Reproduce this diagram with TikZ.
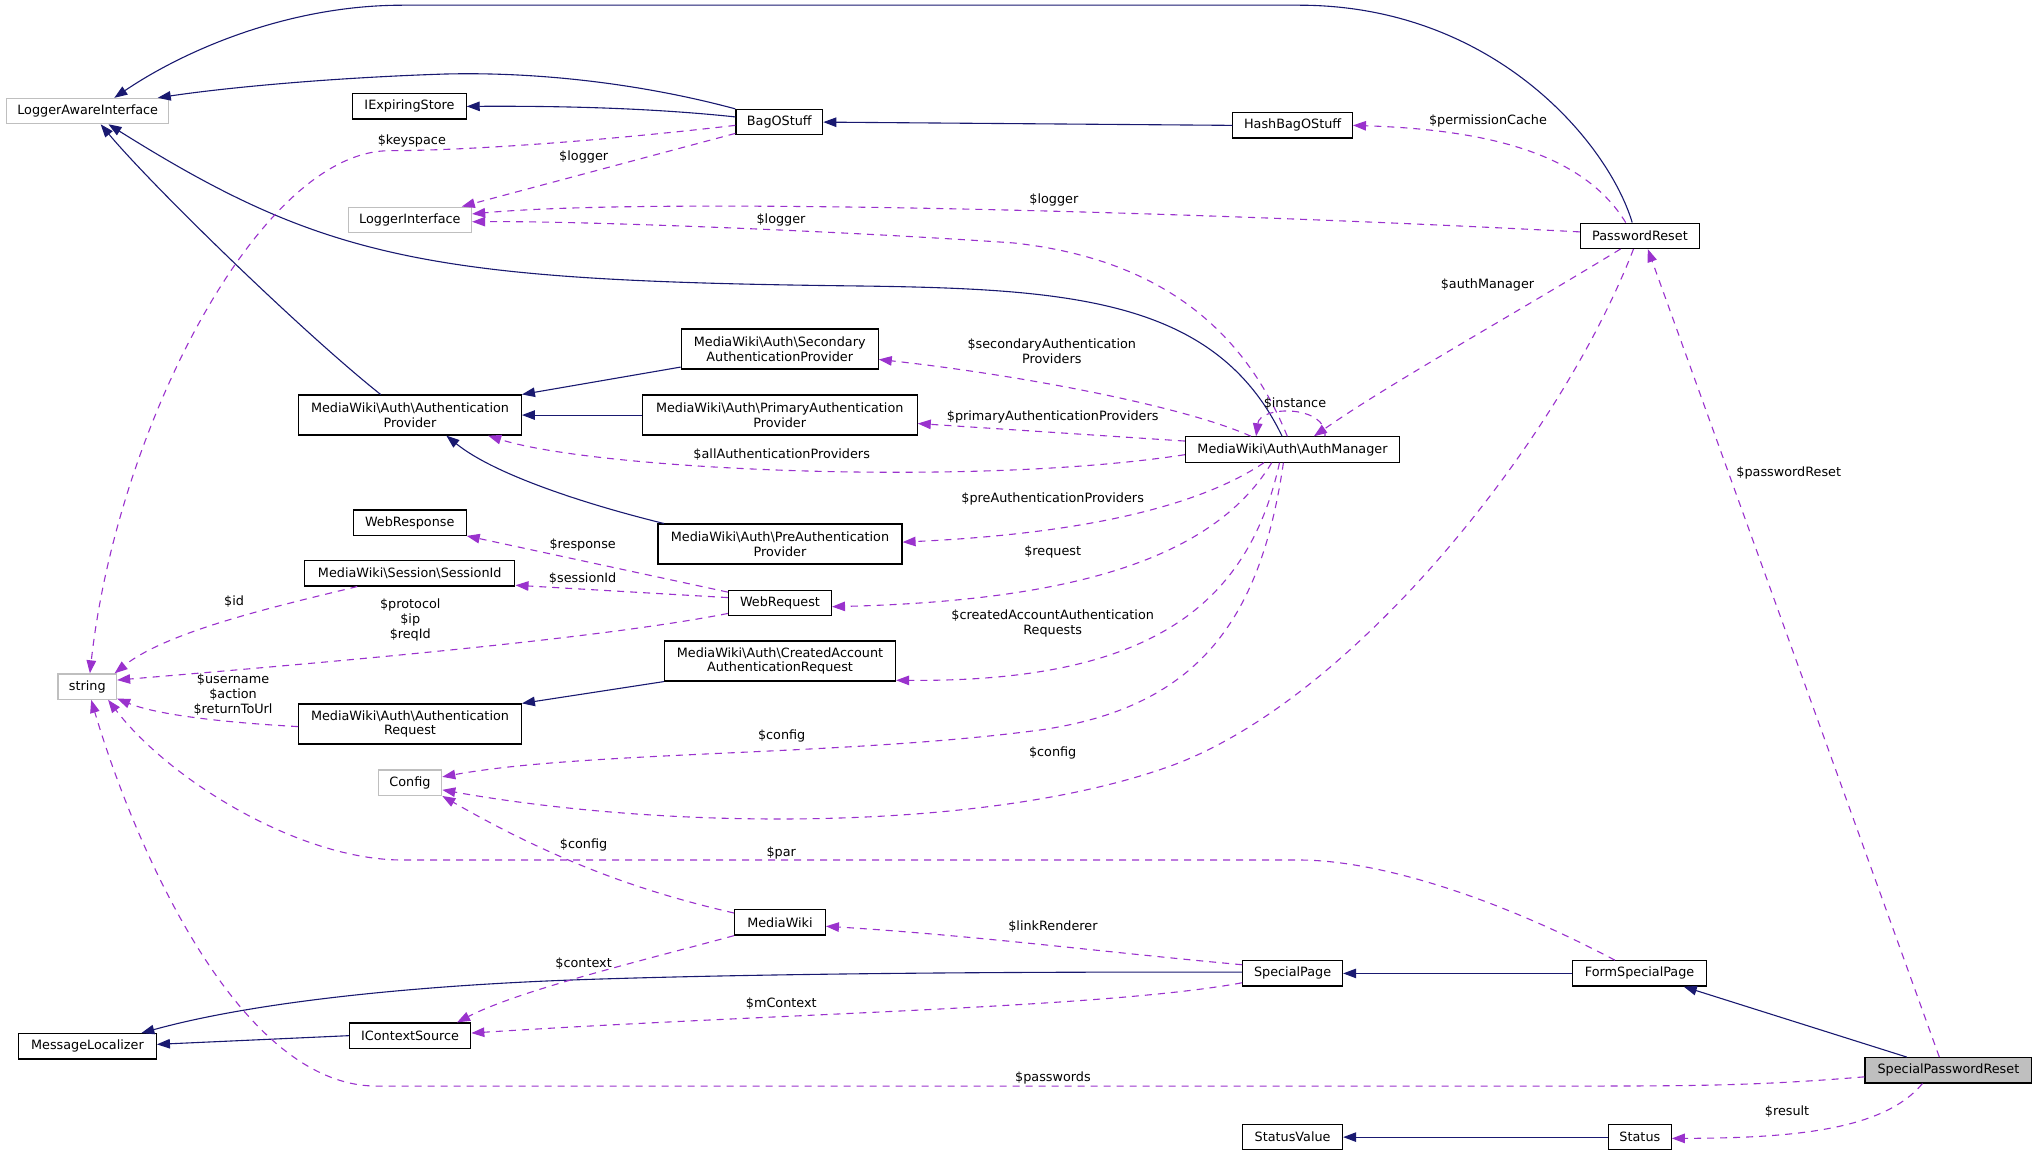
\documentclass[tikz,border=0pt]{standalone}
\usepackage{fontspec}
\setmainfont{DejaVu Sans}
\usetikzlibrary{arrows.meta,calc}
\definecolor{inh}{HTML}{191970}
\definecolor{usg}{HTML}{9A32CD}
\definecolor{extb}{HTML}{BFBFBF}
\newcommand\mybs{\textbackslash}
\begin{document}
\begin{tikzpicture}[x=1.2991pt,y=-1.2991pt,
  every node/.style={font=\fontsize{12.8}{14.8}\selectfont},
  cls/.style={draw=black,line width=1.2pt,fill=white,inner sep=0pt,minimum height=25.3pt,align=center},
  two/.style={minimum height=40pt},
  extn/.style={draw=extb},
  inhe/.style={draw=inh,line width=1.1pt,-{Triangle[length=13pt,width=9.5pt]}},
  usee/.style={draw=usg,line width=1.1pt,dash pattern=on 7pt off 6pt,-{Triangle[length=13pt,width=9.5pt]}},
  lbl/.style={inner sep=0pt,align=center}]
\useasboundingbox (0,0) rectangle (1568,890);
% nodes
\node[cls,extn,minimum width=162.4pt] (law) at (67.5,85.5) {LoggerAwareInterface};
\node[cls,minimum width=113.3pt] (ies) at (315.2,81.9) {IExpiringStore};
\node[cls,minimum width=86.8pt] (bag) at (599.9,94) {BagOStuff};
\node[cls,minimum width=119.5pt] (hash) at (995,96.5) {HashBagOStuff};
\node[cls,extn,minimum width=123.4pt] (li) at (315.5,169.2) {LoggerInterface};
\node[cls,minimum width=119pt] (pr) at (1262.4,181.5) {PasswordReset};
\node[cls,two,minimum width=196.9pt] (sec) at (600.2,268.7) {MediaWiki\mybs Auth\mybs Secondary\\AuthenticationProvider};
\node[cls,two,minimum width=222.7pt] (ap) at (315.6,319.5) {MediaWiki\mybs Auth\mybs Authentication\\Provider};
\node[cls,two,minimum width=274.9pt] (pri) at (600.2,319.5) {MediaWiki\mybs Auth\mybs PrimaryAuthentication\\Provider};
\node[cls,minimum width=214.1pt] (am) at (994.9,346) {MediaWiki\mybs Auth\mybs AuthManager};
\node[cls,minimum width=112.8pt] (wresp) at (315.4,402.3) {WebResponse};
\node[cls,two,minimum width=244pt] (pre) at (600.4,418.8) {MediaWiki\mybs Auth\mybs PreAuthentication\\Provider};
\node[cls,minimum width=210.3pt] (sid) at (315.4,441.3) {MediaWiki\mybs Session\mybs SessionId};
\node[cls,minimum width=102.9pt] (wreq) at (600.4,464) {WebRequest};
\node[cls,two,minimum width=231pt] (caar) at (600.4,508.8) {MediaWiki\mybs Auth\mybs CreatedAccount\\AuthenticationRequest};
\node[cls,extn,minimum width=58.5pt] (str) at (67.2,528.5) {string};
\node[cls,two,minimum width=222.7pt] (areq) at (315.6,557.3) {MediaWiki\mybs Auth\mybs Authentication\\Request};
\node[cls,extn,minimum width=63.4pt] (cfg) at (315.6,602.5) {Config};
\node[cls,minimum width=90.7pt] (mw) at (600.4,710) {MediaWiki};
\node[cls,minimum width=99.9pt] (sp) at (995,749.3) {SpecialPage};
\node[cls,minimum width=133.5pt] (fsp) at (1262.1,749.3) {FormSpecialPage};
\node[cls,minimum width=137.8pt] (ml) at (67.3,805.4) {MessageLocalizer};
\node[cls,minimum width=121.2pt] (ics) at (315.7,797.2) {IContextSource};
\node[cls,fill=extb,minimum width=166.7pt] (spr) at (1499.8,823.9) {SpecialPasswordReset};
\node[cls,minimum width=99.9pt] (sv) at (995,875.3) {StatusValue};
\node[cls,minimum width=62.7pt] (st) at (1262.3,875.3) {Status};
% inheritance edges
\draw[inhe] (bag.north west) .. controls (500,66) and (420,55) .. (342,57) .. controls (250,60) and (170,68) .. ($(law.north east)+(-9,0)$);
\draw[inhe] ($(pr.north)+(-6,0)$) .. controls (1238,110) and (1150,4) .. (1000,4) -- (310,4) .. controls (220,4) and (140,40) .. ($(law.north)+(20.5,0)$);
\draw[inhe] (hash.west) -- (bag.east);
\draw[inhe] ($(bag.west)+(0,-4)$) .. controls (500,83) and (430,81.5) .. (ies.east);
\draw[inhe] ($(am.north)+(-8,0)$) .. controls (935,228) and (820,222) .. (650,220) .. controls (330,216) and (250,200) .. ($(law.south)+(16,0)$);
\draw[inhe] ($(ap.north)+(-22.6,0)$) .. controls (233,256) and (117,143) .. ($(law.south)+(10,0)$);
\draw[inhe] ($(sec.south west)+(0,-2)$) -- (ap.north east);
\draw[inhe] (pri.west) -- (ap.east);
\draw[inhe] ($(pre.north west)+(5,0)$) .. controls (450,388) and (380,365) .. ($(ap.south)+(28,0)$);
\draw[inhe] (caar.south west) -- (areq.north east);
\draw[inhe] ($(sp.west)+(0,-1)$) .. controls (800,748) and (600,749) .. (450,754) .. controls (330,758) and (200,770) .. ($(ml.north east)+(-12,0)$);
\draw[inhe] (ics.west) -- ($(ml.east)+(0,-1.5)$);
\draw[inhe] (fsp.west) -- (sp.east);
\draw[inhe] ($(spr.north)+(-32,0)$) -- ($(fsp.south)+(34,0)$);
\draw[inhe] (st.west) -- (sv.east);
% usage edges
\draw[usee] ($(bag.west)+(0,2.5)$) .. controls (450,110) and (350,116) .. (300,116) .. controls (200,116) and (90,330) .. ($(str.north)+(2,0)$);
\draw[usee] ($(bag.south west)+(0,-1.5)$) -- ($(li.north east)+(-8,0)$);
\draw[usee] ($(pr.north)+(-11,0)$) .. controls (1220,120) and (1150,100) .. (hash.east);
\draw[usee] ($(pr.west)+(0,-3)$) .. controls (900,162) and (500,152) .. ($(li.east)+(0,-4.5)$);
\draw[usee] ($(am.north)+(-4,0)$) .. controls (960,260) and (900,200) .. (780,187) .. controls (650,178) and (450,170) .. ($(li.east)+(0,1.5)$);
\draw[usee] ($(pr.south)+(-15,0)$) .. controls (1160,245) and (1070,295) .. ($(am.north)+(16.5,0)$);
\draw[usee] ($(am.north)+(25,0)$) .. controls ($(am.north)+(27,-24)$) and ($(am.north)+(-25,-24)$) .. ($(am.north)+(-28,0)$);
\draw[usee] ($(am.north)+(-32,0)$) .. controls (910,312) and (780,288) .. ($(sec.east)+(0,8)$);
\draw[usee] ($(am.west)+(0,-6.5)$) -- ($(pri.east)+(0,6.5)$);
\draw[usee] ($(am.west)+(0,4)$) .. controls (750,375) and (460,362) .. ($(ap.south east)+(-26,0)$);
\draw[usee] ($(am.south)+(-22,0)$) .. controls (930,385) and (850,410) .. ($(pre.east)+(0,-1.5)$);
\draw[usee] ($(am.south)+(-16,0)$) .. controls (940,420) and (850,462) .. ($(wreq.east)+(0,3)$);
\draw[usee] ($(am.south)+(-10,0)$) .. controls (960,470) and (880,525) .. ($(caar.south east)+(0,-1)$);
\draw[usee] ($(am.south)+(-7,0)$) .. controls (970,480) and (920,545) .. (800,562) .. controls (650,582) and (450,578) .. ($(cfg.east)+(0,-4.5)$);
\draw[usee] ($(pr.south)+(-5,0)$) .. controls (1200,340) and (1040,540) .. (900,590) .. controls (760,640) and (520,640) .. ($(cfg.east)+(0,5.5)$);
\draw[usee] ($(wreq.north west)+(0,2)$) -- (wresp.south east);
\draw[usee] ($(wreq.west)+(0,-4)$) -- ($(sid.south east)+(0,-1)$);
\draw[usee] ($(wreq.south west)+(0,-2)$) .. controls (460,492) and (250,510) .. ($(str.east)+(0,-5)$);
\draw[usee] ($(sid.south west)+(41,0)$) .. controls (220,465) and (130,485) .. ($(str.north east)+(-2,0)$);
\draw[usee] ($(areq.west)+(0,2)$) .. controls (170,556) and (120,550) .. ($(str.south east)+(0,-1)$);
\draw[usee] ($(mw.north west)+(0,3)$) .. controls (510,690) and (440,670) .. (cfg.south east);
\draw[usee] (mw.south west) .. controls (500,738) and (400,762) .. ($(ics.north east)+(-11,0)$);
\draw[usee] ($(sp.north west)+(0,3.5)$) .. controls (850,733) and (750,720) .. ($(mw.east)+(0,3)$);
\draw[usee] ($(sp.south west)+(0,-3)$) .. controls (850,776) and (600,780) .. ($(ics.east)+(0,-2)$);
\draw[usee] ($(fsp.north)+(-19,0)$) .. controls (1150,690) and (1060,662) .. (1000,662) -- (310,662) .. controls (230,662) and (130,600) .. ($(str.south)+(16,0)$);
\draw[usee] ($(spr.west)+(0,5)$) .. controls (1350,836) and (1300,836) .. (1200,836) -- (290,836) .. controls (180,836) and (100,640) .. ($(str.south)+(3,0)$);
\draw[usee] ($(spr.north)+(-7,0)$) -- ($(pr.south)+(6,0)$);
\draw[usee] ($(spr.south)+(-20,0)$) .. controls (1450,870) and (1380,876) .. ($(st.east)+(0,1)$);
% labels
\node[lbl] (t1) at (317,108.3) {\$keyspace};
\node[lbl] (t2) at (449.3,120.6) {\$logger};
\node[lbl] (t3) at (1145.4,92.9) {\$permissionCache};
\node[lbl] (t4) at (811.2,154) {\$logger};
\node[lbl] (t5) at (601.2,169.4) {\$logger};
\node[lbl] (t6) at (1145,219) {\$authManager};
\node[lbl] (t7) at (996.8,310.5) {\$instance};
\node[lbl] (t8) at (809.6,270.2) {\$secondaryAuthentication\\Providers};
\node[lbl] (t9) at (810.3,320.7) {\$primaryAuthenticationProviders};
\node[lbl] (t10) at (601.7,349.7) {\$allAuthenticationProviders};
\node[lbl] (t11) at (810.3,383.9) {\$preAuthenticationProviders};
\node[lbl] (t12) at (810.3,424.7) {\$request};
\node[lbl] (t13) at (810.3,479.7) {\$createdAccountAuthentication\\Requests};
\node[lbl] (t14) at (601.7,566.3) {\$config};
\node[lbl] (t15) at (810.3,579.4) {\$config};
\node[lbl] (t16) at (448.5,419.5) {\$response};
\node[lbl] (t17) at (448.5,445.2) {\$sessionId};
\node[lbl] (t18) at (315.8,477) {\$protocol\\\$ip\\\$reqId};
\node[lbl] (t19) at (180.2,463) {\$id};
\node[lbl] (t20) at (179.4,534.5) {\$username\\\$action\\\$returnToUrl};
\node[lbl] (t21) at (449.2,650.4) {\$config};
\node[lbl] (t22) at (601.4,656.4) {\$par};
\node[lbl] (t23) at (810.5,713.3) {\$linkRenderer};
\node[lbl] (t24) at (449.2,742) {\$context};
\node[lbl] (t25) at (601.4,772.3) {\$mContext};
\node[lbl] (t26) at (810.5,830) {\$passwords};
\node[lbl] (t27) at (1376.9,363.8) {\$passwordReset};
\node[lbl] (t28) at (1375.6,855.7) {\$result};
\end{tikzpicture}
\end{document}
